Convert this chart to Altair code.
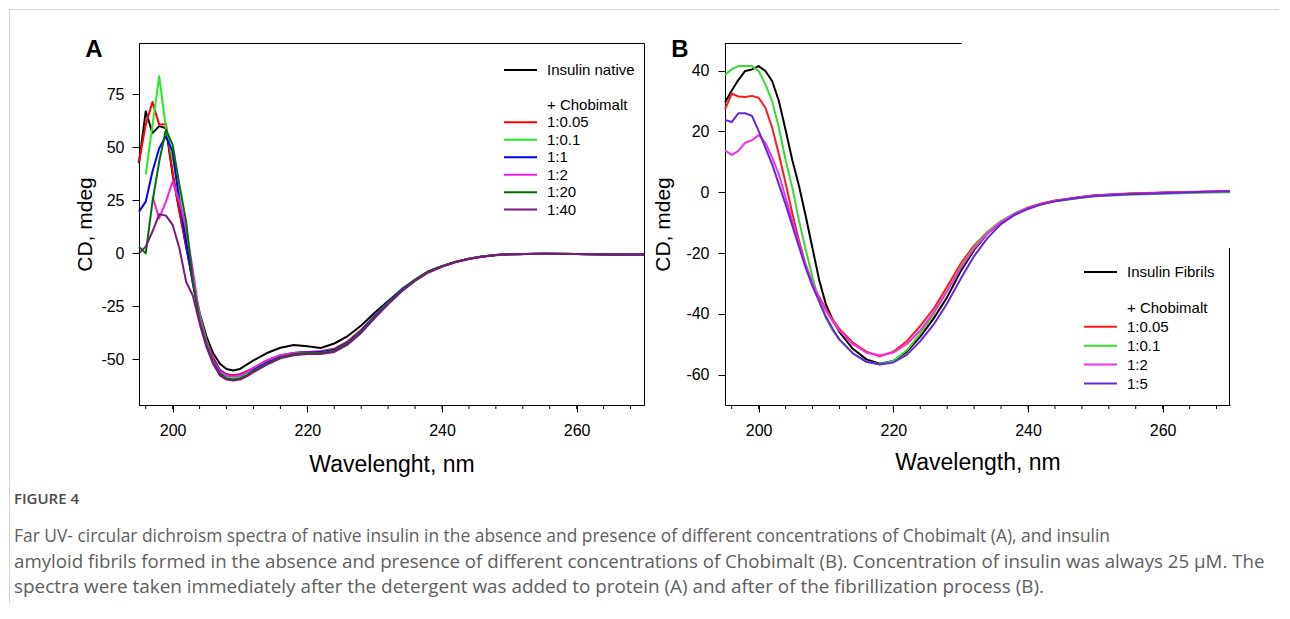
import altair as alt
import pandas as pd

FONT = "Liberation Sans"
CAP_FONT = "Open Sans"

# ---------------- data ----------------
wavelength = [195, 196, 197, 198, 199, 200, 201, 202, 203, 204, 205, 206, 207, 208, 209, 210, 211, 212,
              214, 216, 218, 220, 222, 224, 226, 228, 230, 232, 234, 236, 238, 240, 242, 244, 246, 248, 250,
              255, 260, 265, 270]

# Panel A : native insulin
a_native = [42.5, 67, 56.7, 60, 59, 37, 20, 3, -13, -28, -39, -47, -52, -54.5, -55.2, -54.5, -52.5, -50.5,
            -47, -44.5, -43.2, -43.8, -44.6, -42.5, -39, -34, -28, -22.5, -17, -12.5, -8.5, -6, -4, -2.5, -1.5, -0.8, -0.4,
            -0.2, -0.3, -0.5, -0.5]
a_005 = [43.3, 60.7, 71.4, 60.7, 61, 38, 20, 4, -14, -30, -41, -49, -55, -57, -57.5, -57, -55.5, -54,
         -50.5, -48, -47, -46.5, -46.2, -45, -41.5, -36, -29.5, -23.5, -17.5, -12.5, -8.5, -6, -4, -2.5, -1.5, -0.8, -0.4,
         -0.2, -0.3, -0.5, -0.5]
a_01 = [None, 37.3, None, 83.5, 59, 45, 27, 8, -12, -29, -41, -50, -56, -58.5, -59, -58.5, -57, -55,
        -51.5, -48.5, -47, -46.5, -46.5, -45.5, -42, -36.5, -29.5, -23, -17, -12.5, -8.5, -6, -4, -2.5, -1.5, -0.8, -0.4,
        -0.2, -0.3, -0.5, -0.5]
a_1 = [19.7, 24.4, 38.6, 49.6, 55.2, 48, 24.4, 5.5, -14, -31, -42, -50, -55, -57.5, -58, -57.5, -56, -54.5,
       -51, -48.5, -47, -46.5, -46.5, -45.5, -42, -36.5, -29.5, -23, -17, -12.5, -8.5, -6, -4, -2.5, -1.5, -0.8, -0.4,
       -0.2, -0.3, -0.5, -0.5]
a_2 = [None, None, 26.8, 16.5, 24.4, 33.9, 24.4, 11.8, -8, -30, -42, -50.5, -55.5, -57.5, -58, -57.5, -56, -54,
       -50.5, -48, -47, -46.8, -47, -46, -42.5, -37, -30, -23.5, -17.5, -12.5, -8.5, -6, -4, -2.5, -1.5, -0.8, -0.4,
       -0.2, -0.3, -0.5, -0.5]
a_20 = [3.2, 0, 24.4, 43.3, 58.3, 51.2, 32.3, 15, -13, -32, -43, -51.5, -56.5, -59, -59.5, -59, -57.5, -55.5,
        -52, -49, -47.5, -47, -47, -46, -42.5, -37, -30, -23.5, -17.5, -12.5, -8.5, -6, -4, -2.5, -1.5, -0.8, -0.4,
        -0.2, -0.3, -0.5, -0.5]
a_40 = [0, 3.2, 10.3, 18.4, 17.8, 13.4, 2.4, -13.4, -20, -33, -44, -52, -57.5, -59.5, -60, -59.5, -58, -56,
        -52.5, -49.5, -48, -47.5, -47.5, -46.5, -43, -37.5, -30.5, -24, -18, -13, -9, -6.3, -4.2, -2.7, -1.6, -0.9, -0.4,
        -0.2, -0.3, -0.5, -0.5]

a_names = ["Insulin native", "1:0.05", "1:0.1", "1:1", "1:2", "1:20", "1:40"]
a_colors = ["#000000", "#ff0000", "#22ee22", "#0000ff", "#ee22ee", "#007000", "#7a1a7a"]
a_series = [a_native, a_005, a_01, a_1, a_2, a_20, a_40]

# Panel B : insulin fibrils
b_fibrils = [29.5, 33.5, 37, 39.9, 40.4, 41.5, 39.9, 36.6, 30, 20.5, 10.5, 2, -8, -18.5, -29, -37, -42, -46,
             -51.5, -55, -56.4, -55.5, -52.5, -47.5, -41.5, -34.5, -26, -19, -13.5, -10, -7.2, -5.2, -3.9, -2.9, -2.2, -1.6, -1.1,
             -0.5, -0.2, 0, 0.2]
b_005 = [27.3, 32.4, 31.5, 31.3, 31.7, 31.1, 27.8, 21.3, 12.5, 3, -7, -16, -24, -30, -34.5, -38.5, -42, -45,
         -49.5, -52.5, -54, -52.5, -49, -44, -38.3, -31, -23.5, -17.5, -13, -9.5, -7, -5, -3.7, -2.7, -2.1, -1.5, -1,
         -0.4, -0.1, 0.2, 0.4]
b_01 = [38.6, 40.5, 41.5, 41.5, 41.5, 39.9, 35.5, 30, 21.3, 10.5, 1.5, -9.5, -19, -28, -36, -41.5, -45.5, -48.5,
        -53, -55.8, -56.6, -55.5, -52, -46.5, -40, -32.5, -24.5, -18, -13, -9.5, -7, -5.2, -4, -3, -2.4, -1.8, -1.3,
        -0.8, -0.5, -0.2, 0]
b_2 = [13.8, 12.3, 13.6, 16.3, 17.1, 18.8, 16.3, 11.4, 5.9, -1.8, -9.5, -17, -24, -30, -35, -39, -42.5, -45.5,
       -50, -52.8, -53.6, -52.8, -50, -45.5, -39.5, -32.5, -25, -18.5, -13.5, -9.8, -7.2, -5.2, -3.9, -2.9, -2.2, -1.6, -1.1,
       -0.6, -0.2, 0.1, 0.3]
b_5 = [23.8, 23.1, 26, 26, 25.1, 20.2, 14.7, 9.2, 2.6, -4, -11, -18, -25, -31, -36, -41, -45, -48.5,
       -53, -55.8, -56.7, -56, -53.5, -49, -43.5, -36.5, -28.5, -21, -15, -10.5, -7.5, -5.5, -4, -3, -2.3, -1.7, -1.2,
       -0.7, -0.3, 0.1, 0.3]

b_names = ["Insulin Fibrils", "1:0.05", "1:0.1", "1:2", "1:5"]
b_colors = ["#000000", "#ff1a1a", "#33dd33", "#ee33ee", "#6a24e0"]
b_series = [b_fibrils, b_005, b_01, b_2, b_5]

major_ticks = [200, 220, 240, 260]
minor_ticks = [196, 200, 204, 208, 212, 216, 220, 224, 228, 232, 236, 240, 244, 248, 252, 256, 260, 264, 268]
a_yticks = [-50, -25, 0, 25, 50, 75]
b_yticks = [-60, -40, -20, 0, 20, 40]

caption_head = "FIGURE 4"
caption_lines = [
    "Far UV- circular dichroism spectra of native insulin in the absence and presence of different concentrations of Chobimalt (A), and insulin",
    "amyloid fibrils formed in the absence and presence of different concentrations of Chobimalt (B). Concentration of insulin was always 25 \u03bcM. The",
    "spectra were taken immediately after the detergent was added to protein (A) and after of the fibrillization process (B).",
]
caption_sizes = [17.4, 18.7, 18.9]
CAP_COLOR = "#5e5e5e"


def to_long(names, series):
    rows = []
    for i, (name, vals) in enumerate(zip(names, series)):
        for w, v in zip(wavelength, vals):
            if v is not None:
                rows.append({"wl": w, "cd": v, "series": name, "k": i})
    return pd.DataFrame(rows)


def legend_table(names, rows):
    recs = [{"label": names[0], "series": names[0], "row": rows[0]},
            {"label": "+ Chobimalt", "series": None, "row": rows[1]}]
    for n, r in zip(names[1:], rows[2:]):
        recs.append({"label": n, "series": n, "row": r})
    return pd.DataFrame(recs)


one = pd.DataFrame({"d": [0]})
HYPHEN = "'' + datum.value"


def panel(names, colors, series, width, height, ydom, yticks, xtitle,
          leg_rows, leg_y0, leg_dy, leg_x, tag, ylab_pad, ytitle_pad, xtitle_pad, extra=None):
    df = to_long(names, series)
    color = alt.Color("series:N", scale=alt.Scale(domain=names, range=colors), legend=None)
    x_enc = alt.X("wl:Q", scale=alt.Scale(domain=[195, 270], nice=False, zero=False),
                  axis=alt.Axis(values=major_ticks, tickSize=7, labelPadding=10, grid=False,
                                title=xtitle, titlePadding=xtitle_pad, labelExpr=HYPHEN))
    y_enc = alt.Y("cd:Q", scale=alt.Scale(domain=ydom, nice=False, zero=False),
                  axis=alt.Axis(values=yticks, tickSize=7, labelPadding=ylab_pad, grid=False,
                                title="CD, mdeg", titlePadding=ytitle_pad, labelExpr=HYPHEN))
    lines = alt.Chart(df).mark_line(strokeWidth=2, strokeJoin="round").encode(
        x=x_enc, y=y_enc, color=color, detail="series:N", order="k:Q")
    minor = alt.Chart(pd.DataFrame({"wl": minor_ticks})).mark_rule(color="black", strokeWidth=1).encode(
        x=x_enc, y=alt.value(height), y2=alt.value(height + 4))

    leg = legend_table(names, leg_rows)
    leg_scale = alt.Scale(domain=[0, 1], range=[leg_y0, leg_y0 + leg_dy], zero=False, nice=False)
    sw = alt.Chart(leg).transform_filter("datum.series != null").mark_rule(strokeWidth=2).encode(
        x=alt.value(leg_x), x2=alt.value(leg_x + 33),
        y=alt.Y("row:Q", scale=leg_scale, axis=None), color=color)
    txt = alt.Chart(leg).mark_text(align="left", baseline="middle", font=FONT, fontSize=15,
                                   color="black").encode(
        x=alt.value(leg_x + 43), y=alt.Y("row:Q", scale=leg_scale, axis=None), text="label:N")
    lab = alt.Chart(one).mark_text(align="center", baseline="middle", font=FONT, fontSize=24,
                                   fontWeight="bold", color="black", text=tag).encode(
        x=alt.value(-45), y=alt.value(7))
    layers = [lines, minor, sw, txt, lab] + (extra or [])
    return alt.layer(*layers).resolve_scale(y="independent").properties(width=width, height=height)


# page decorations and caption (drawn in panel A's coordinate frame)
frame_v = alt.Chart(one).mark_rule(color="#d4d4d4", strokeWidth=1).encode(
    x=alt.value(-129.5), y=alt.value(-34), y2=alt.value(560))
frame_h = alt.Chart(one).mark_rule(color="#d4d4d4", strokeWidth=1).encode(
    x=alt.value(-129.5), x2=alt.value(1140), y=alt.value(-33.5))
head = alt.Chart(one).mark_text(align="left", baseline="middle", font=CAP_FONT, fontSize=15,
                                fontWeight=600, color="#4a4a4a", text=caption_head).encode(
    x=alt.value(-125), y=alt.value(456))
cap_layers = [frame_v, frame_h, head]
for i, (line, fs) in enumerate(zip(caption_lines, caption_sizes)):
    cap_layers.append(alt.Chart(one).mark_text(align="left", baseline="middle", font=CAP_FONT,
                                               fontSize=fs, color=CAP_COLOR, text=line).encode(
        x=alt.value(-125), y=alt.value(494 + 25 * i)))

# panel B: open frame (top edge only partly drawn, right edge only on the lower part)
B_W, B_H = 505, 362
b_top = alt.Chart(one).mark_rule(color="black", strokeWidth=1).encode(
    x=alt.value(0), x2=alt.value(237), y=alt.value(0.5))
b_right = alt.Chart(one).mark_rule(color="black", strokeWidth=1).encode(
    x=alt.value(B_W - 0.5), y=alt.value(205), y2=alt.value(B_H))

panel_a = panel(a_names, a_colors, a_series, 505, 362, [-71.5, 99.2], a_yticks, "Wavelenght, nm",
                [0, 2, 3, 4, 5, 6, 7, 8], 27, 17.45, 365, "A", 8, 5.5, 15, extra=cap_layers)
panel_b = panel(b_names, b_colors, b_series, B_W, B_H, [-70, 49.1], b_yticks, "Wavelength, nm",
                [0, 1.9, 2.9, 3.9, 4.9, 5.9], 229, 18.9, 359, "B", 9, 12, 13,
                extra=[b_top, b_right]).properties(view=alt.ViewBackground(stroke=None))

chart = alt.hconcat(panel_a, panel_b, spacing=81, bounds="flush", padding=0).resolve_scale(
    color="independent"
).configure_view(
    stroke="black", strokeWidth=1
).configure_axis(
    domainColor="black", tickColor="black", labelColor="black", titleColor="black",
    labelFont=FONT, titleFont=FONT, labelFontSize=16, titleFontSize=23, titleFontWeight="normal"
).configure_axisY(titleFontSize=21)

chart.save("out.html", embed_options={"renderer": "svg", "actions": False})
